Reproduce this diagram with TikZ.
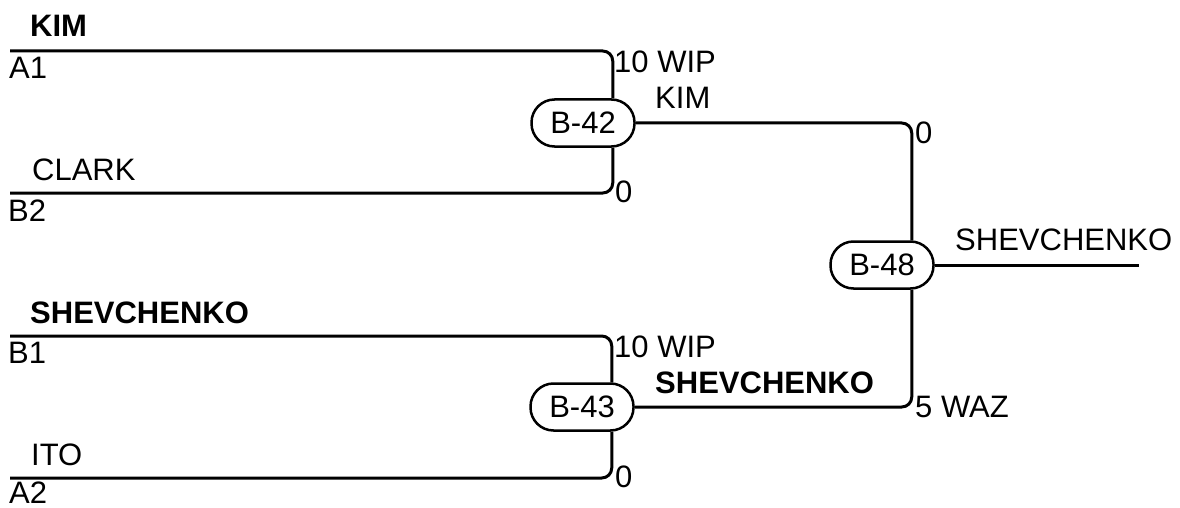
\documentclass[tikz,border=0pt]{standalone}
\usepackage{fontspec}
\setmainfont{Liberation Sans}
\begin{document}
\begin{tikzpicture}[x=1pt,y=-1pt,
 wire/.style={line width=3pt, rounded corners=10pt},
 box/.style={draw, line width=2.5pt, rounded corners=23pt, minimum width=103pt, minimum height=47pt, inner sep=0pt, font=\fontsize{31}{37}\selectfont},
 lbl/.style={anchor=base west, inner sep=0pt, font=\fontsize{31}{37}\selectfont},
 blbl/.style={anchor=base west, inner sep=0pt, font=\fontsize{31}{37}\selectfont\bfseries}]
\useasboundingbox (0,0) rectangle (1180,508);

\node[box] (b42) at (583,123) {B-42};
\node[box] (b43) at (582,407) {B-43};
\node[box] (b48) at (882,265) {B-48};

\coordinate (a1) at (10,51);
\coordinate (b2) at (10,193);
\coordinate (b1) at (10,336);
\coordinate (a2) at (10,478);
\coordinate (out) at (1139,265);

\draw[wire] (a1) -| ([xshift=-23pt]b42.north east);
\draw[wire] (b2) -| ([xshift=-23pt]b42.south east);
\draw[wire] (b42.east) -| ([xshift=-23pt]b48.north east);
\draw[wire] (b43.east) -| ([xshift=-23pt]b48.south east);
\draw[wire] (b1) -| ([xshift=-23pt]b43.north east);
\draw[wire] (a2) -| ([xshift=-23pt]b43.south east);
\draw[wire] (b48.east) -- (out);

\node[blbl] (tkim) at (30,37) {KIM};
\node[lbl] (ta1) at (9,79) {A1};
\node[lbl] (tclark) at (32,180) {CLARK};
\node[lbl] (tb2) at (8,221) {B2};
\node[blbl] (tshev) at (30,323) {SHEVCHENKO};
\node[lbl] (tb1) at (8,363) {B1};
\node[lbl] (tito) at (31,465) {ITO};
\node[lbl] (ta2) at (9,503) {A2};

\node[lbl] (w1) at (614,73) {10 WIP};
\node[lbl] (k1) at (655,109) {KIM};
\node[lbl] (z1) at (615,202) {0};
\node[lbl] (w2) at (614,357) {10 WIP};
\node[blbl] (s2) at (655,393) {SHEVCHENKO};
\node[lbl] (z2) at (615,487) {0};
\node[lbl] (z3) at (915,143) {0};
\node[lbl] (waz) at (915,417) {5 WAZ};
\node[lbl] (sout) at (955,250) {SHEVCHENKO};
\end{tikzpicture}
\end{document}
